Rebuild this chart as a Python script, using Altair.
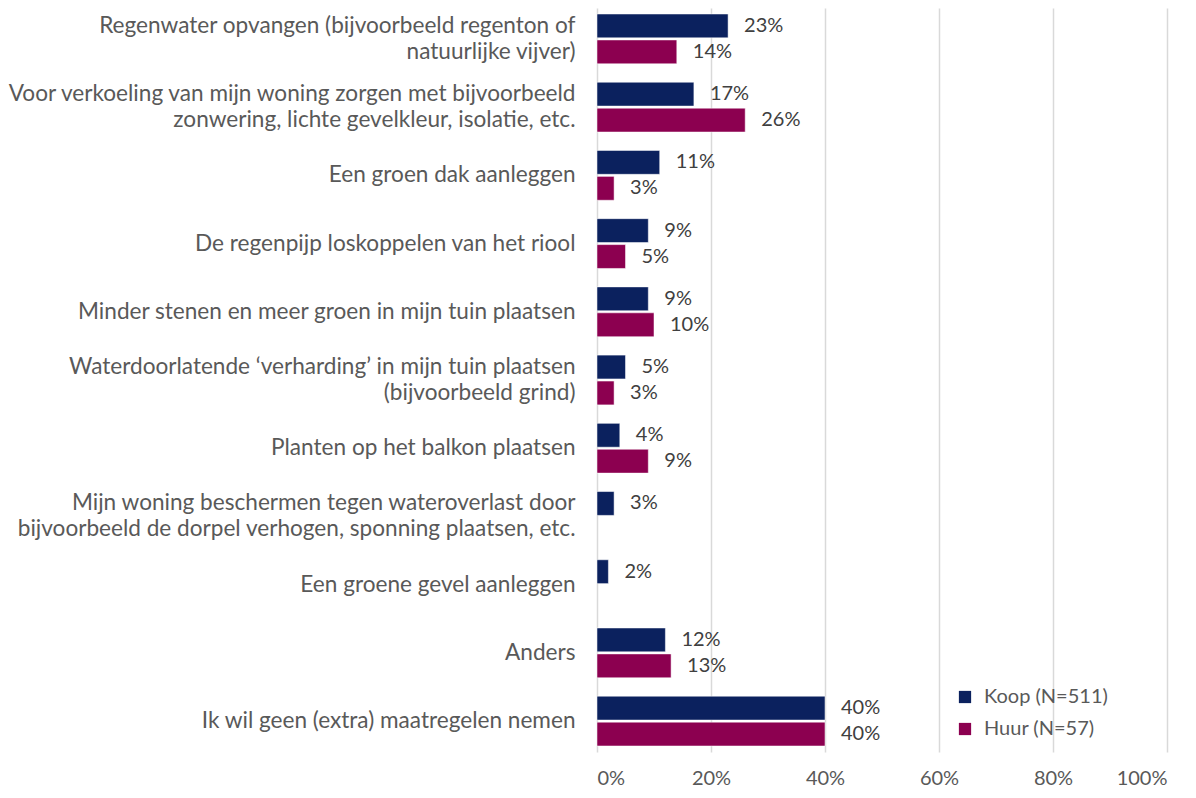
import altair as alt
import pandas as pd

categories = [
    "Regenwater opvangen (bijvoorbeeld regenton of|natuurlijke vijver)",
    "Voor verkoeling van mijn woning zorgen met bijvoorbeeld|zonwering, lichte gevelkleur, isolatie, etc.",
    "Een groen dak aanleggen",
    "De regenpijp loskoppelen van het riool",
    "Minder stenen en meer groen in mijn tuin plaatsen",
    "Waterdoorlatende \u2018verharding\u2019 in mijn tuin plaatsen|(bijvoorbeeld grind)",
    "Planten op het balkon plaatsen",
    "Mijn woning beschermen tegen wateroverlast door|bijvoorbeeld de dorpel verhogen, sponning plaatsen, etc.",
    "Een groene gevel aanleggen",
    "Anders",
    "Ik wil geen (extra) maatregelen nemen",
]
koop = [23, 17, 11, 9, 9, 5, 4, 3, 2, 12, 40]
huur = [14, 26, 3, 5, 10, 3, 9, None, None, 13, 40]
series = ["Koop (N=511)", "Huur (N=57)"]
colors = ["#0B215E", "#8C0050"]

rows = []
for c, k, h in zip(categories, koop, huur):
    rows.append({"cat": c, "serie": series[0], "val": k / 100})
    if h is not None:
        rows.append({"cat": c, "serie": series[1], "val": h / 100})
df = pd.DataFrame(rows)

FONT = "Lato"
y = alt.Y("cat:N", sort=categories, title=None,
          scale=alt.Scale(paddingInner=0.27, paddingOuter=0.088),
          axis=alt.Axis(labelExpr="split(datum.label, '|')", labelFontSize=22.6,
                        labelFont=FONT, labelColor="#595959", labelPadding=22,
                        labelLineHeight=26, ticks=False, domain=False, labelLimit=700,
                        labelOffset={"condition": {"test": "indexof(datum.value, '|') >= 0",
                                                   "value": -13}, "value": 0}))
yoff = alt.YOffset("serie:N", sort=series, scale=alt.Scale(paddingInner=0.08))
x = alt.X("val:Q", title=None,
          scale=alt.Scale(domain=[0, 1], nice=False),
          axis=alt.Axis(format=".0%", values=[0, 0.2, 0.4, 0.6, 0.8, 1.0],
                        labelFontSize=20, labelFont=FONT, labelColor="#595959",
                        labelPadding=16, ticks=False, domain=False,
                        grid=True, gridColor="#D9D9D9", gridWidth=1.5))
color = alt.Color("serie:N", sort=series,
                  scale=alt.Scale(domain=series, range=colors),
                  legend=alt.Legend(title=None, orient="none", legendX=358, legendY=679,
                                    symbolType="square", symbolSize=150,
                                    symbolStrokeWidth=0, labelFontSize=20,
                                    labelFont=FONT, labelColor="#595959",
                                    rowPadding=12, labelOffset=9))

bars = alt.Chart(df).mark_bar(stroke="white", strokeWidth=0.5).encode(
    y=y, yOffset=yoff, x=x, color=color)
labels = alt.Chart(df).mark_text(align="left", baseline="middle", dx=16,
                                 fontSize=20, font=FONT, color="#404040").encode(
    y=alt.Y("cat:N", sort=categories), yOffset=alt.YOffset("serie:N", sort=series),
    x="val:Q", text=alt.Text("val:Q", format=".0%"))

chart = (bars + labels).properties(
    width=570, height=744,
    autosize=alt.AutoSizeParams(type="none"),
    padding={"left": 589, "top": 0, "right": 20, "bottom": 38},
).configure_view(stroke=None)

chart.save("out.html", embed_options={"renderer": "svg", "actions": False})
